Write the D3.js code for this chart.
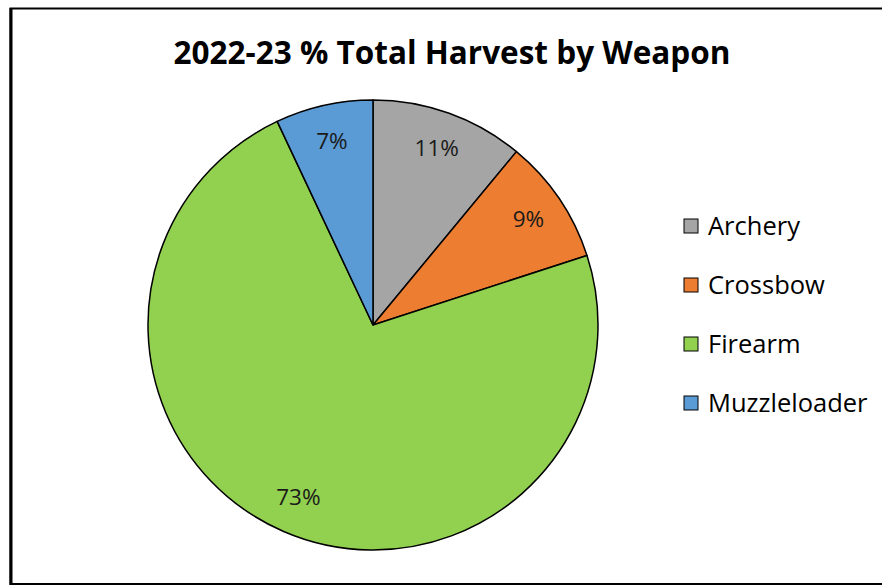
<!DOCTYPE html>
<html>
<head>
<meta charset="utf-8">
<script src="https://cdn.jsdelivr.net/npm/d3@7"></script>
<style>
  html, body { margin: 0; padding: 0; background: #fff; }
  svg { display: block; }
</style>
</head>
<body>
<svg id="chart" width="882" height="586"></svg>
<script>
// Share of total harvest by weapon type, 2022-23 season
const categories = ["Archery", "Crossbow", "Firearm", "Muzzleloader"];
const shares = [11, 9, 73, 7];
const colors = ["#A5A5A5", "#ED7D31", "#92D050", "#5B9BD5"];
const titleText = "2022-23 % Total Harvest by Weapon";

const svg = d3.select("#chart");
const font = "'Open Sans', 'Noto Sans', sans-serif";

// outer frame (right edge runs past the canvas)
svg.append("rect")
  .attr("x", 10.5).attr("y", 8.5)
  .attr("width", 900).attr("height", 575.5)
  .attr("fill", "#fff")
  .attr("stroke", "#000").attr("stroke-width", 2);
svg.append("line")
  .attr("x1", 11).attr("x2", 11).attr("y1", 8).attr("y2", 585)
  .attr("stroke", "#000").attr("stroke-width", 3);

// title
svg.append("text")
  .attr("x", 452).attr("y", 64)
  .attr("text-anchor", "middle")
  .attr("font-family", font)
  .attr("font-weight", "bold")
  .attr("font-size", 31.5)
  .attr("fill", "#000")
  .text(titleText);

// pie
const cx = 373, cy = 325, R = 225;
const data = categories.map((c, i) => ({ name: c, value: shares[i], color: colors[i] }));
const pie = d3.pie().value(d => d.value).sort(null);
const arcs = pie(data);
const arc = d3.arc().innerRadius(0).outerRadius(R);
const labelArc = d3.arc().innerRadius(188).outerRadius(188);

const g = svg.append("g").attr("transform", `translate(${cx},${cy})`);
g.selectAll("path.slice")
  .data(arcs)
  .join("path")
  .attr("class", "slice")
  .attr("d", arc)
  .attr("fill", d => d.data.color)
  .attr("stroke", "#000")
  .attr("stroke-width", 1.5)
  .attr("stroke-linejoin", "round");

g.selectAll("text.lbl")
  .data(arcs)
  .join("text")
  .attr("class", "lbl")
  .attr("transform", d => `translate(${labelArc.centroid(d)})`)
  .attr("text-anchor", "middle")
  .attr("dy", "0.35em")
  .attr("font-family", font)
  .attr("font-size", 22.5)
  .attr("fill", "#1a1a1a")
  .text(d => d.data.value + "%");

// legend
const legend = svg.append("g").attr("transform", "translate(684,226)");
const rows = legend.selectAll("g")
  .data(data)
  .join("g")
  .attr("transform", (d, i) => `translate(0,${i * 59})`);
rows.append("rect")
  .attr("x", 0).attr("y", -7)
  .attr("width", 14).attr("height", 14)
  .attr("fill", d => d.color)
  .attr("stroke", "#000").attr("stroke-width", 1);
rows.append("text")
  .attr("x", 24).attr("y", 0)
  .attr("dy", "0.35em")
  .attr("font-family", font)
  .attr("font-size", 25.5)
  .attr("fill", "#000")
  .text(d => d.name);
</script>
</body>
</html>
